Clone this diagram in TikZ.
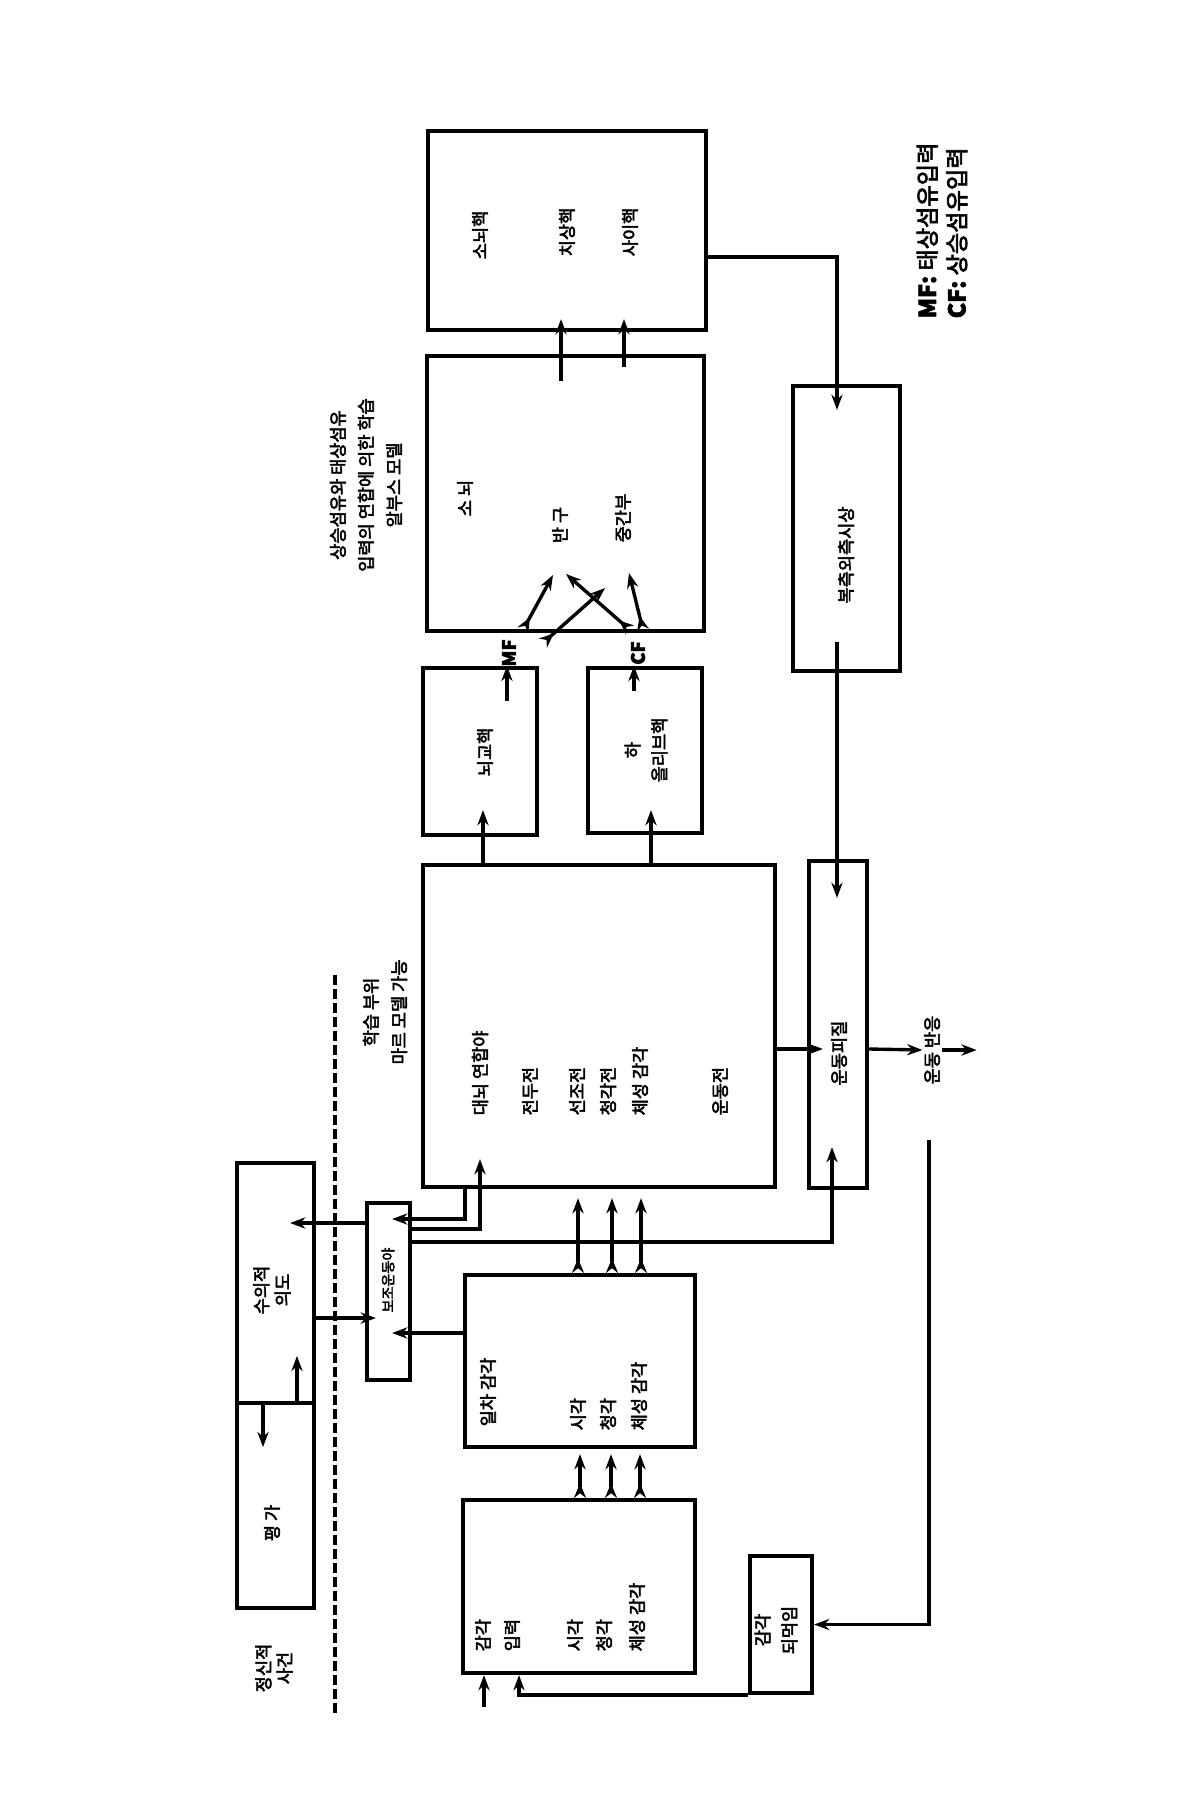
\documentclass[tikz,border=0pt]{standalone}
\usepackage{fontspec}
\setmainfont{Noto Sans CJK KR}[FakeBold=3]
\usetikzlibrary{arrows.meta}

\begin{document}
\begin{tikzpicture}[x=0.025cm, y=-0.025cm,
    blk/.style={draw, line width=3pt, inner sep=0pt},
    lbl/.style={rotate=90, inner sep=1pt, align=center, font=\fontsize{12.5}{15}\selectfont},
    con/.style={line width=2.4pt, -{Stealth[length=3.8mm,width=2.8mm]}},
    rcon/.style={line width=2.4pt, {Stealth[length=3.8mm,width=2.8mm]}-},
    dbl/.style={line width=2.4pt, {Stealth[reversed,length=3.6mm,width=3mm]}-{Stealth[length=3.8mm,width=2.8mm]}}]
    \useasboundingbox (0,0) rectangle (1200,1800);
    \fill[white] (0,0) rectangle (1200,1800);

    \node[blk, minimum width=69.5mm,  minimum height=49.75mm] (nuclei)   at (567,230.5)  {};
    \node[blk, minimum width=69.25mm, minimum height=68.75mm] (cortex)   at (565.5,493.5) {};
    \node[blk, minimum width=26.75mm, minimum height=71.25mm] (thal)     at (846.5,528.5) {};
    \node[blk, minimum width=28.5mm,  minimum height=41.75mm] (pons)     at (480,751.5)  {};
    \node[blk, minimum width=28.5mm,  minimum height=41.25mm] (olive)    at (645,750.5)  {};
    \node[blk, minimum width=88mm,    minimum height=80.5mm]  (assoc)    at (599,1026)   {};
    \node[blk, minimum width=14.5mm,  minimum height=81.75mm] (motor)    at (838,1024.5) {};
    \node[blk, minimum width=10.75mm, minimum height=44.25mm] (sma)      at (388.5,1291.5) {};
    \node[blk, minimum width=19.25mm, minimum height=60mm]    (will)     at (275.5,1283) {};
    \node[blk, minimum width=19.25mm, minimum height=51.25mm] (eval)     at (275.5,1505.5) {};
    \node[blk, minimum width=57.5mm,  minimum height=43mm]    (primary)  at (580,1361)   {};
    \node[blk, minimum width=58mm,    minimum height=43.25mm] (sensory)  at (579,1586.5) {};
    \node[blk, minimum width=15.5mm,  minimum height=34.25mm] (feedback) at (781,1624.5) {};

    \node[lbl] (tnuc1) at (480,235) {소뇌핵};
    \node[lbl] (tnuc2) at (567,232) {치상핵};
    \node[lbl] (tnuc3) at (630,232) {사이핵};
    \node[lbl] (tcx1) at (465,498) {소 뇌};
    \node[lbl] (tcx2) at (560,525) {반 구};
    \node[lbl] (tcx3) at (623,518) {중간부};
    \node[lbl] (tthal) at (846,555) {복측외측시상};
    \node[lbl] (tpons) at (485,752) {뇌교핵};
    \node[lbl] (tolive) at (646,750) {하\\[4pt]올리브핵};
    \node[lbl, anchor=west] (tas1) at (480,1117) {대뇌 연합야};
    \node[lbl, anchor=west] (tas2) at (530,1117) {전두전};
    \node[lbl, anchor=west] (tas3) at (577,1117) {선조전};
    \node[lbl, anchor=west] (tas4) at (608,1117) {청각전};
    \node[lbl, anchor=west] (tas5) at (640,1117) {체성 감각};
    \node[lbl, anchor=west] (tas6) at (720,1117) {운동전};
    \node[lbl, anchor=west] (tpr1) at (488,1428) {일차 감각};
    \node[lbl, anchor=west] (tpr2) at (578,1432) {시각};
    \node[lbl, anchor=west] (tpr3) at (608,1432) {청각};
    \node[lbl, anchor=west] (tpr4) at (639,1432) {체성 감각};
    \node[lbl, anchor=west] (tse1) at (483,1653) {감각};
    \node[lbl, anchor=west] (tse2) at (512,1653) {입력};
    \node[lbl, anchor=west] (tse3) at (575,1653) {시각};
    \node[lbl, anchor=west] (tse4) at (604,1653) {청각};
    \node[lbl, anchor=west] (tse5) at (637,1653) {체성 감각};
    \node[lbl] (tmot) at (839,1053) {운동피질};
    \node[lbl] (resp) at (932,1050) {운동 반응};
    \node[lbl, font=\fontsize{10}{12}\selectfont] (tsma) at (388,1280) {보조운동야};
    \node[lbl] (twill) at (272,1290) {수의적\\의도};
    \node[lbl] (teval) at (272,1523) {평 가};
    \node[lbl] (tfb) at (776,1630) {감각\\[4pt]되먹임};
    \node[lbl] (tmind) at (274,1668) {정신적\\사건};
    \node[lbl] (tmarr) at (385,1012) {학습 부위\\[5pt]마르 모델 가능};
    \node[lbl] (talbus) at (366,485) {상승섬유와 태상섬유\\[5pt]입력의 연합에 의한 학습\\[5pt]알부스 모델};
    \node[lbl, anchor=west, align=left, font=\fontsize{16.5}{21}\selectfont] (legend) at (942,320) {\textbf{MF:} 태상섬유입력\\\textbf{CF:} 상승섬유입력};
    \node[lbl, font=\fontsize{13}{15}\selectfont\bfseries] (tmf) at (509,653) {MF};
    \node[lbl, font=\fontsize{13}{15}\selectfont\bfseries] (tcf) at (638,653) {CF};

    \draw[line width=2.6pt, dash pattern=on 2.4mm off 1.1mm] (335,975) -- (335,1715);

    \draw[con, shorten <=-6.75mm, shorten >=-3.25mm] (cortex.north -| 561,0) -- (nuclei.south -| 561,0);
    \draw[con, shorten <=-3.25mm, shorten >=-3.25mm] (cortex.north -| 624,0) -- (nuclei.south -| 624,0);
    \draw[con, shorten >=-6.5mm] (nuclei.east |- 0,257) -| (837,0 |- thal.north);
    \draw[con, shorten <=-7.75mm, shorten >=-9.75mm] (837,0 |- thal.south) -- (837,0 |- motor.north);

    \coordinate (mf1) at (523,630); \coordinate (mfa) at (553,575);
    \coordinate (mf2) at (543,643); \coordinate (mfb) at (605,588);
    \coordinate (cf1) at (630,630); \coordinate (cfa) at (566,574);
    \coordinate (cf2) at (643,630); \coordinate (cfb) at (629,573);
    \draw[dbl] (mf1) -- (mfa);
    \draw[dbl] (mf2) -- (mfb);
    \draw[dbl] (cf1) -- (cfa);
    \draw[dbl] (cf2) -- (cfb);

    \draw[rcon] (pons.north -| 507,0) -- ++(0,35);
    \draw[rcon] (olive.north -| 634,0) -- ++(0,25);
    \draw[con, shorten >=-6.75mm] (assoc.north -| 483,0) -- (pons.south -| 483,0);
    \draw[con, shorten >=-6.25mm] (assoc.north -| 651,0) -- (olive.south -| 651,0);

    \foreach \x in {578,612,641}
        \draw[dbl, shorten >=2.25mm] (primary.north -| \x,0) -- (assoc.south -| \x,0);
    \foreach \x in {580,611,640}
        \draw[dbl, shorten >=1.25mm] (sensory.north -| \x,0) -- (primary.south -| \x,0);

    \draw[rcon] (sensory.south -| 484,0) -- ++(0,32);
    \draw[con] (feedback.south west) -| (sensory.south -| 519,0);

    \draw[con, shorten >=-4mm] (assoc.east |- 0,1049) -- (motor.west |- 0,1049);
    \draw[con] (motor.east |- 0,1049) -- (resp.north);
    \draw[con] (resp.south) -- ++(35,0);
    \coordinate (fb0) at (929,1140);
    \draw[con] (fb0) |- (feedback.east);

    \draw[con, shorten >=-6.5mm] (sma.west |- 0,1223) -- (will.east |- 0,1223);
    \draw[con, shorten >=-2.75mm] (will.east |- 0,1318) -- (sma.west |- 0,1318);
    \draw[con, shorten >=-5mm] (assoc.south -| 465,0) |- (sma.east |- 0,1219);
    \draw[con, shorten >=-7.5mm] (sma.east |- 0,1229) -| (assoc.south -| 480,0);
    \draw[con, shorten >=-10.75mm] (sma.east |- 0,1242) -| (motor.south -| 832,0);
    \draw[con, shorten >=-5mm] (primary.west |- 0,1333) -- (sma.east |- 0,1333);

    \draw[con] (eval.north -| 297,0) -- ++(0,-45);
    \draw[con] (will.south -| 263,0) -- ++(0,42);
\end{tikzpicture}
\end{document}
